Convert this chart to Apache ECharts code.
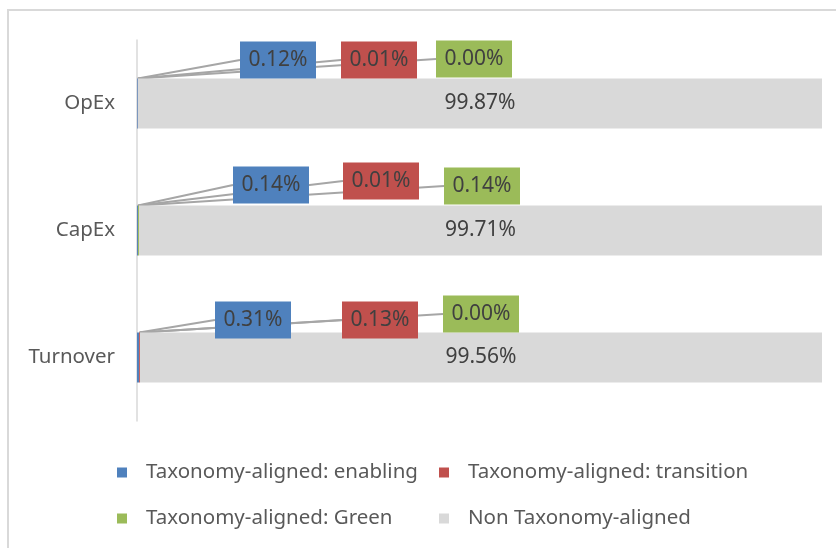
<!DOCTYPE html>
<html>
<head>
<meta charset="utf-8">
<script src="https://cdn.jsdelivr.net/npm/echarts@6/dist/echarts.min.js"></script>
<style>
  html, body { margin: 0; padding: 0; background: #fff; }
  #chart { width: 836px; height: 548px; }
</style>
</head>
<body>
<div id="chart"></div>
<script>
const categories = ['Turnover', 'CapEx', 'OpEx']
const seriesNames = [
  'Taxonomy-aligned: enabling',
  'Taxonomy-aligned: transition',
  'Taxonomy-aligned: Green',
  'Non Taxonomy-aligned'
]
const enabling = [0.31, 0.14, 0.12]
const transition = [0.13, 0.01, 0.01]
const green = [0.00, 0.14, 0.00]
const nonAligned = [99.56, 99.71, 99.87]

const colors = ['#4f81bd', '#c0504d', '#9bbb59', '#d9d9d9']

// callout box centres (px) for the small series, per category
const calloutPos = [
  [[253, 320], [271, 185], [278, 60]],
  [[380, 320], [381, 181], [379, 60]],
  [[481, 314], [482, 186], [474, 59]]
]

const font = 'Noto Sans'
const chart = echarts.init(document.getElementById('chart'))

function smallSeries(idx, data) {
  return {
    name: seriesNames[idx],
    type: 'bar',
    stack: 'total',
    barWidth: 50,
    data: data,
    itemStyle: { color: colors[idx] },
    label: {
      show: true,
      formatter: p => p.value.toFixed(2) + '%',
      backgroundColor: colors[idx],
      color: '#404040',
      fontFamily: font,
      fontSize: 21,
      width: 76,
      height: 37,
      lineHeight: 37,
      align: 'center',
      verticalAlign: 'middle'
    },
    labelLine: {
      show: true,
      lineStyle: { color: '#a6a6a6', width: 2 }
    },
    labelLayout: p => ({
      x: calloutPos[idx][p.dataIndex][0],
      y: calloutPos[idx][p.dataIndex][1],
      align: 'center',
      verticalAlign: 'middle'
    })
  }
}

const option = {
  animation: false,
  backgroundColor: '#fff',
  grid: { left: 137, right: 14, top: 40, bottom: 127 },
  xAxis: {
    type: 'value',
    min: 0,
    max: 100,
    show: false
  },
  yAxis: {
    type: 'category',
    data: categories,
    axisLine: { show: true, lineStyle: { color: '#d9d9d9', width: 1.5 } },
    axisTick: { show: false },
    axisLabel: { color: '#595959', fontFamily: font, fontSize: 20.5, margin: 22 }
  },
  legend: {
    data: seriesNames,
    left: 117,
    top: 456,
    width: 710,
    padding: 0,
    icon: 'rect',
    itemWidth: 10,
    itemHeight: 10,
    itemGap: 13,
    textStyle: {
      color: '#595959',
      fontFamily: font,
      fontSize: 20.5,
      width: 280,
      lineHeight: 33,
      padding: [0, 0, 0, 14]
    }
  },
  graphic: [
    {
      type: 'polyline',
      shape: { points: [[8, 548], [8, 10], [836, 10]] },
      style: { stroke: '#d9d9d9', lineWidth: 2, fill: null },
      silent: true
    }
  ],
  series: [
    smallSeries(0, enabling),
    smallSeries(1, transition),
    smallSeries(2, green),
    {
      name: seriesNames[3],
      type: 'bar',
      stack: 'total',
      barWidth: 50,
      data: nonAligned,
      itemStyle: { color: colors[3] },
      label: {
        show: true,
        position: 'inside',
        formatter: p => p.value.toFixed(2) + '%',
        color: '#404040',
        fontFamily: font,
        fontSize: 21
      }
    }
  ]
}

chart.setOption(option)
</script>
</body>
</html>
